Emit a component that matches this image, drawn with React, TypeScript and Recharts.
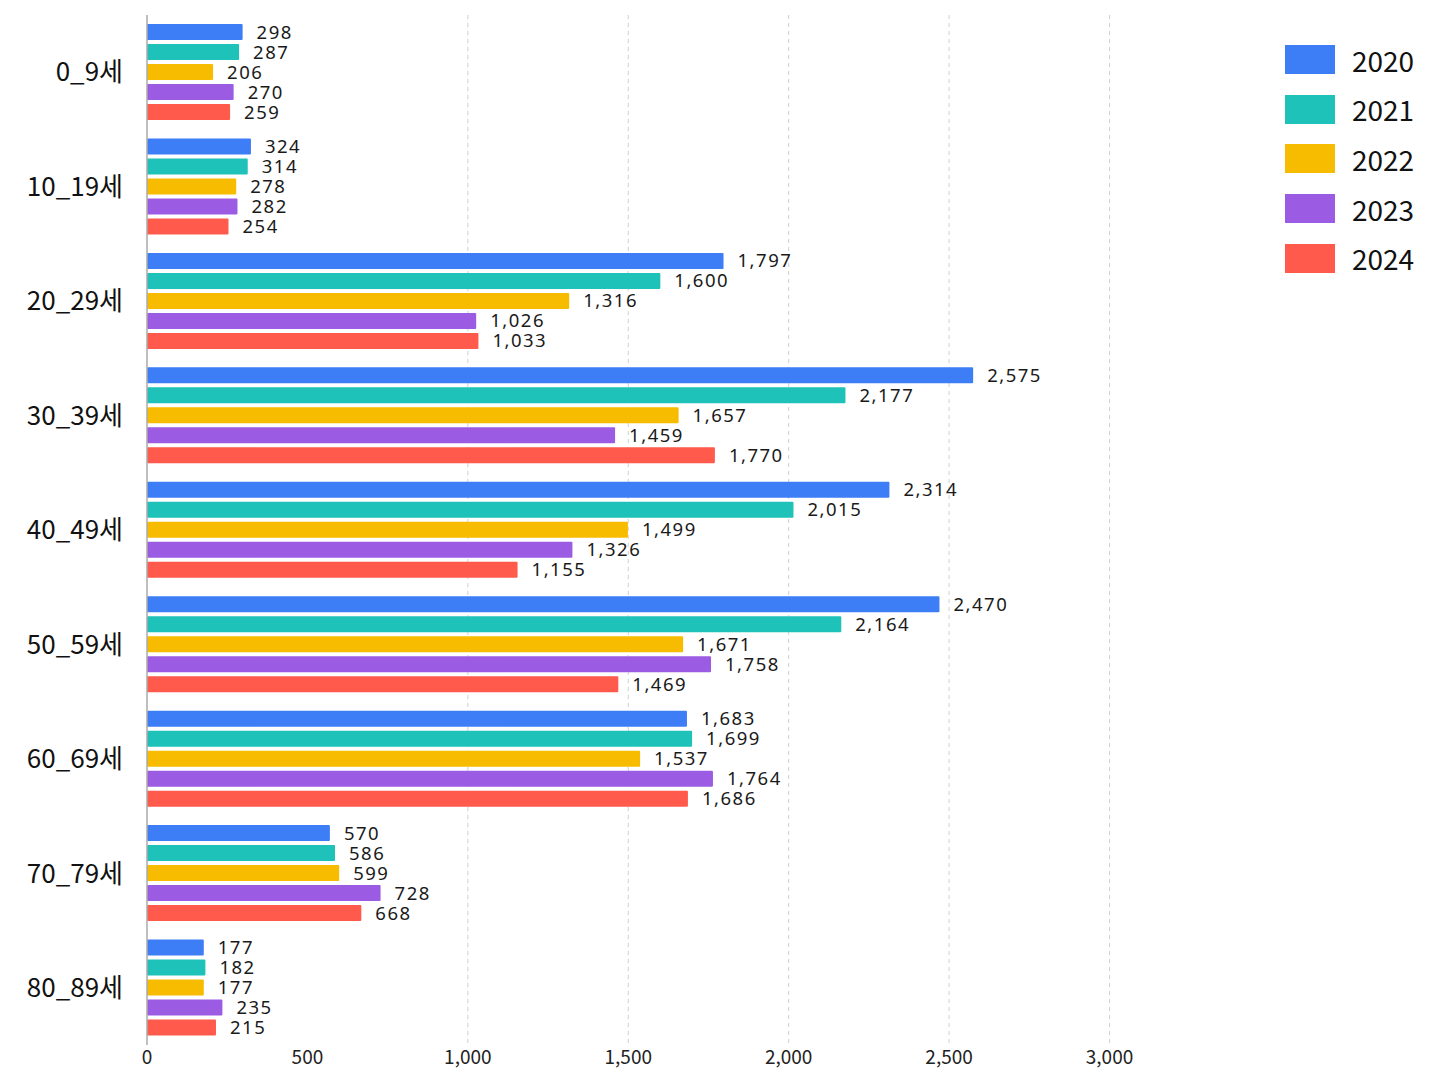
import { BarChart, Bar, XAxis, YAxis, CartesianGrid, Legend, LabelList } from "recharts"

const categories = ["0_9세", "10_19세", "20_29세", "30_39세", "40_49세", "50_59세", "60_69세", "70_79세", "80_89세"]
const years = ["2020", "2021", "2022", "2023", "2024"]
const v2020 = [298, 324, 1797, 2575, 2314, 2470, 1683, 570, 177]
const v2021 = [287, 314, 1600, 2177, 2015, 2164, 1699, 586, 182]
const v2022 = [206, 278, 1316, 1657, 1499, 1671, 1537, 599, 177]
const v2023 = [270, 282, 1026, 1459, 1326, 1758, 1764, 728, 235]
const v2024 = [259, 254, 1033, 1770, 1155, 1469, 1686, 668, 215]
const xTicks = [0, 500, 1000, 1500, 2000, 2500, 3000]
const gridValues = [1000, 1500, 2000, 2500, 3000]

const colors = ["#3d7ef7", "#1ec2b9", "#f7bb00", "#9b5be3", "#ff5a4c"]
const series = [v2020, v2021, v2022, v2023, v2024]

const data = categories.map((name, i) => {
  const row: Record<string, string | number> = { name }
  years.forEach((y, k) => {
    row[y] = series[k][i]
  })
  return row
})

const fmt = (v: any) => Number(v).toLocaleString("en-US")

function CustomLegend() {
  return (
    <div style={{ display: "flex", flexDirection: "column" }}>
      {years.map((y, k) => (
        <div key={y} style={{ display: "flex", alignItems: "center", height: 49.6 }}>
          <div style={{ width: 50, height: 29, background: colors[k] }} />
          <span style={{ marginLeft: 17, fontSize: 28, color: "#111", lineHeight: 1 }}>{y}</span>
        </div>
      ))}
    </div>
  )
}

export default function App() {
  return (
    <div style={{ width: 1432, height: 1078, background: "#fff", fontFamily: "'Noto Sans CJK KR', 'Noto Sans', sans-serif" }}>
      <BarChart
        width={1432}
        height={1078}
        data={data}
        layout="vertical"
        margin={{ top: 7, right: 292, left: 0, bottom: 11 }}
        barCategoryGap={9}
        barGap={4}
      >
        <CartesianGrid
          horizontal={false}
          verticalValues={gridValues}
          strokeDasharray="4 4"
          stroke="#d0d0d0"
        />
        <XAxis
          type="number"
          domain={[0, 3120]}
          ticks={xTicks}
          tickFormatter={fmt}
          axisLine={false}
          tickLine={false}
          tickSize={0}
          tickMargin={6}
          height={30}
          tick={{ fontSize: 19, fill: "#222" }}
        />
        <YAxis
          type="category"
          dataKey="name"
          width={139}
          axisLine={{ stroke: "#aaa", strokeWidth: 1.5 }}
          tickLine={false}
          tickSize={0}
          tickMargin={24}
          tick={{ fontSize: 26, fill: "#111" }}
        />
        <Legend
          layout="horizontal"
          verticalAlign="middle"
          align="center"
          content={<CustomLegend />}
          wrapperStyle={{ top: 27, left: 1277, width: 150 }}
        />
        {years.map((y, k) => (
          <Bar key={y} dataKey={y} fill={colors[k]} isAnimationActive={false} radius={1}>
            <LabelList
              dataKey={y}
              position="right"
              offset={14}
              formatter={fmt}
              style={{ fontSize: 18.5, fill: "#1a1a1a", letterSpacing: 1.5, fontFamily: "'Noto Sans', sans-serif" }}
            />
          </Bar>
        ))}
      </BarChart>
    </div>
  )
}
